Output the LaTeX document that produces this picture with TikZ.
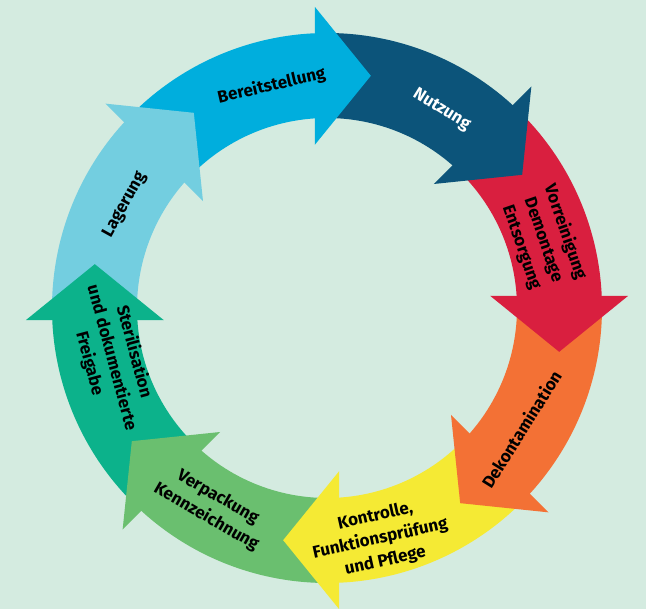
\documentclass[tikz,border=0pt]{standalone}
\usepackage{fontspec}
\setmainfont{Fira Sans}
\usepackage{tikz}
\definecolor{bgmint}{HTML}{D4EBE0}
\definecolor{cBereit}{HTML}{00AEDD}
\definecolor{cNutz}{HTML}{0C547A}
\definecolor{cVorrein}{HTML}{D91F3F}
\definecolor{cDekont}{HTML}{F37135}
\definecolor{cKontr}{HTML}{F5EA34}
\definecolor{cVerpack}{HTML}{6ABF6F}
\definecolor{cSteril}{HTML}{0CB28B}
\definecolor{cLager}{HTML}{73CEE0}
\tikzstyle{steplabel}=[font=\bfseries\fontsize{17}{23}\selectfont, align=center, inner sep=0pt, text=black]
\tikzstyle{ring}=[draw=none]

\begin{document}
\begin{tikzpicture}[x=1pt, y=1pt]
  \fill[bgmint] (-327,-301) rectangle (319,308);
  \useasboundingbox (-327,-301) rectangle (319,308);
  % ring segments
  \fill[ring, cBereit] (137:275pt) arc[start angle=137, end angle=91, radius=275pt] -- (91:190pt) arc[start angle=91, end angle=137, radius=190pt] -- cycle;
  \fill[ring, cNutz] (92:275pt) arc[start angle=92, end angle=46, radius=275pt] -- (46:190pt) arc[start angle=46, end angle=92, radius=190pt] -- cycle;
  \fill[ring, cVorrein] (47:275pt) arc[start angle=47, end angle=1, radius=275pt] -- (1:190pt) arc[start angle=1, end angle=47, radius=190pt] -- cycle;
  \fill[ring, cDekont] (2:275pt) arc[start angle=2, end angle=-44, radius=275pt] -- (-44:190pt) arc[start angle=-44, end angle=2, radius=190pt] -- cycle;
  \fill[ring, cKontr] (-43:275pt) arc[start angle=-43, end angle=-89, radius=275pt] -- (-89:190pt) arc[start angle=-89, end angle=-43, radius=190pt] -- cycle;
  \fill[ring, cVerpack] (-88:275pt) arc[start angle=-88, end angle=-134, radius=275pt] -- (-134:190pt) arc[start angle=-134, end angle=-88, radius=190pt] -- cycle;
  \fill[ring, cSteril] (-133:275pt) arc[start angle=-133, end angle=-179, radius=275pt] -- (-179:190pt) arc[start angle=-179, end angle=-133, radius=190pt] -- cycle;
  \fill[ring, cLager] (182:275pt) arc[start angle=182, end angle=136, radius=275pt] -- (136:190pt) arc[start angle=136, end angle=182, radius=190pt] -- cycle;
  % arrow heads
  \fill[cBereit, shift={(93:232.5pt)}, rotate=90] (69,0) -- (0,-56) -- (-69,0) -- cycle;
  \fill[cNutz, shift={(48:232.5pt)}, rotate=45] (69,0) -- (0,-56) -- (-69,0) -- cycle;
  \fill[cVorrein, shift={(3:232.5pt)}, rotate=0] (69,0) -- (0,-56) -- (-69,0) -- cycle;
  \fill[cDekont, shift={(-42:232.5pt)}, rotate=-45] (69,0) -- (0,-56) -- (-69,0) -- cycle;
  \fill[cKontr, shift={(-87:232.5pt)}, rotate=-90] (69,0) -- (0,-56) -- (-69,0) -- cycle;
  \fill[cVerpack, shift={(-132:232.5pt)}, rotate=-135] (69,0) -- (0,-56) -- (-69,0) -- cycle;
  \fill[cSteril, shift={(-177:232.5pt)}, rotate=-180] (69,0) -- (0,-56) -- (-69,0) -- cycle;
  \fill[cLager, shift={(138:232.5pt)}, rotate=135] (69,0) -- (0,-56) -- (-69,0) -- cycle;
  % labels
  \node[steplabel, rotate=13] (bereit) at (104:229pt) {Bereitstellung};
  \node[steplabel, rotate=-32, text=white] (nutz) at (60:229pt) {Nutzung};
  \node[steplabel, rotate=-71] (vorrein) at (17.5:227pt) {Vorreinigung\\Demontage\\Entsorgung};
  \node[steplabel, rotate=58] (dekont) at (-32:229pt) {Dekontamination};
  \node[steplabel, rotate=12.5] (kontr) at (-77:237pt) {Kontrolle,\\Funktionsprüfung\\und Pflege};
  \node[steplabel, rotate=-30] (verpack) at (-120:230pt) {Verpackung\\Kennzeichnung};
  \node[steplabel, rotate=-75] (steril) at (193:221pt) {Sterilisation\\und dokumentierte\\Freigabe};
  \node[steplabel, rotate=61] (lager) at (153:227pt) {Lagerung};
\end{tikzpicture}
\end{document}
